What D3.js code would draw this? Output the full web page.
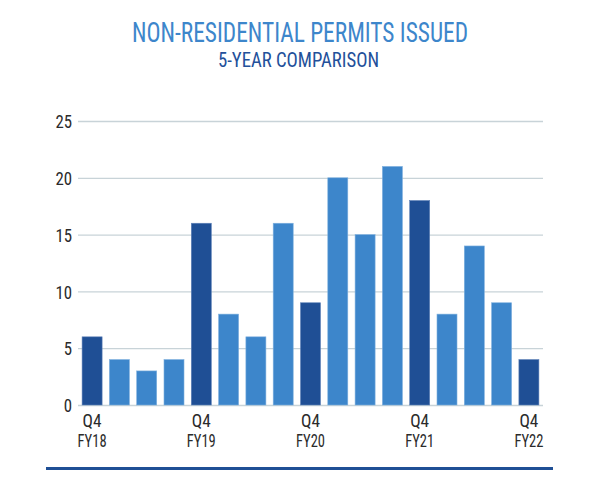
<!DOCTYPE html>
<html><head><meta charset="utf-8">
<script src="https://cdn.jsdelivr.net/npm/d3@7"></script>
<style>
html,body{margin:0;padding:0;background:#fff;}
text{font-family:"Roboto Condensed","Liberation Sans Narrow","DejaVu Sans Condensed",sans-serif;}
</style></head>
<body><svg id="c" width="600" height="491"></svg>
<script>
const quarters = ["Q4 FY18","Q1 FY19","Q2 FY19","Q3 FY19","Q4 FY19","Q1 FY20","Q2 FY20","Q3 FY20","Q4 FY20","Q1 FY21","Q2 FY21","Q3 FY21","Q4 FY21","Q1 FY22","Q2 FY22","Q3 FY22","Q4 FY22"];
const permits = [6,4,3,4,16,8,6,16,9,20,15,21,18,8,14,9,4];
const yTicks = [0,5,10,15,20,25];
const title = "NON-RESIDENTIAL PERMITS ISSUED";
const subtitle = "5-YEAR COMPARISON";

const svg = d3.select("#c");
const dark = "#1f4f95", light = "#3d86cb";

const x = d3.scaleBand().domain(quarters).range([78,543]).paddingInner(0.267).paddingOuter(0.15);
const y = d3.scaleLinear().domain([0,25]).range([405,121]);

svg.append("text").attr("x",300).attr("y",42).attr("text-anchor","middle")
  .attr("font-size",27).attr("fill","#3d86cb").attr("textLength",336).attr("lengthAdjust","spacingAndGlyphs").text(title);
svg.append("text").attr("x",298.5).attr("y",67).attr("text-anchor","middle")
  .attr("font-size",21).attr("fill","#23509a").attr("textLength",161).attr("lengthAdjust","spacingAndGlyphs").text(subtitle);

// grid
const yAxis = d3.axisLeft(y).tickValues(yTicks).tickSize(-(543-78)).tickPadding(6);
const ga = svg.append("g").attr("transform","translate(78,0)").call(yAxis);
ga.select(".domain").remove();
ga.selectAll(".tick line").attr("stroke","#c8d3d8").attr("stroke-width",1.3);
ga.selectAll(".tick text").attr("font-size",18.5).attr("fill","#2b2b2b").attr("x",-6).attr("dy","0.36em")
  .attr("textLength",d=>String(d).length*8.3).attr("lengthAdjust","spacingAndGlyphs");

svg.append("g").selectAll("rect").data(quarters).join("rect")
  .attr("x",d=>x(d)).attr("width",x.bandwidth())
  .attr("y",(d,i)=>y(permits[i])).attr("height",(d,i)=>y(0)-y(permits[i]))
  .attr("fill",d=>d.startsWith("Q4")?dark:light)
  .attr("stroke",d=>d.startsWith("Q4")?"#5f82b8":"#7fb0de").attr("stroke-width",0.6);

// x labels
const xl = svg.append("g");
quarters.forEach((q,i)=>{
  if(!q.startsWith("Q4")) return;
  const cx = x(q)+x.bandwidth()/2;
  const parts = q.split(" ");
  xl.append("text").attr("x",cx).attr("y",427).attr("text-anchor","middle").attr("font-size",18).attr("fill","#2b2b2b")
    .attr("textLength",19).attr("lengthAdjust","spacingAndGlyphs").text(parts[0]);
  xl.append("text").attr("x",cx).attr("y",447).attr("text-anchor","middle").attr("font-size",18).attr("fill","#2b2b2b")
    .attr("textLength",29).attr("lengthAdjust","spacingAndGlyphs").text(parts[1]);
});

svg.append("line").attr("x1",46).attr("x2",553).attr("y1",468.5).attr("y2",468.5)
  .attr("stroke",dark).attr("stroke-width",3);
</script></body></html>
